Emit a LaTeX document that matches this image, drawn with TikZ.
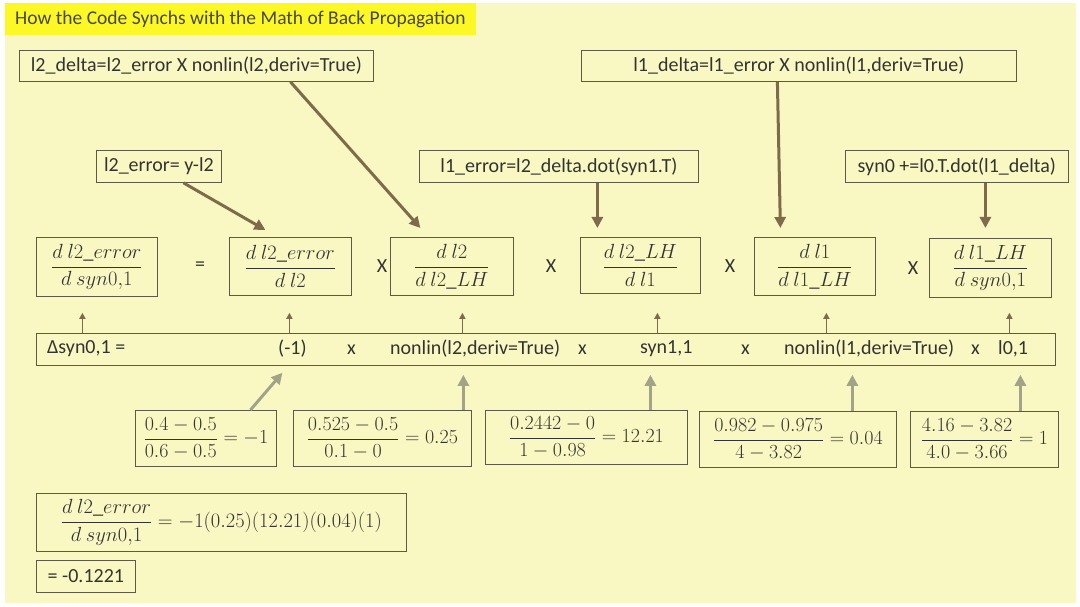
\documentclass[tikz,border=0pt]{standalone}
\usepackage{fix-cm}
\usepackage{fontspec}
\setmainfont{Carlito}
\usetikzlibrary{arrows.meta}
\definecolor{paper}{HTML}{FAF8C2}
\definecolor{titlebg}{HTML}{FCF826}
\definecolor{ink}{HTML}{333333}
\definecolor{frame}{HTML}{5E5A48}
\definecolor{brownarr}{HTML}{7D6B4B}
\definecolor{sage}{HTML}{A3A387}
\tikzset{
  codebox/.style={draw=frame, line width=0.8pt, text=ink, anchor=north west,
    font=\fontsize{20}{24}\selectfont, minimum height=31pt, inner sep=0pt},
  fracbox/.style={draw=frame, line width=0.8pt, text=ink, anchor=north west,
    font=\fontsize{20.5}{24}\selectfont, inner sep=0pt},
  numbox/.style={fracbox, font=\fontsize{20}{24}\selectfont},
  optext/.style={text=ink, font=\fontsize{20}{24}\selectfont, inner sep=0pt},
  rowtext/.style={optext, anchor=west},
  bigarr/.style={brownarr, line width=3pt, -{Triangle[length=11pt,width=11pt]}},
  smallarr/.style={brownarr, line width=1.6pt, -{Triangle[length=6pt,width=6pt]}},
  grayarr/.style={sage, line width=3pt, -{Triangle[length=11pt,width=11pt]}}
}
\begin{document}
\begin{tikzpicture}[x=1pt,y=-1pt]
\useasboundingbox (0,0) rectangle (1080,607);
\fill[white] (0,0) rectangle (1080,607);
\fill[paper] (5,3) rectangle (1076,603);
\fill[titlebg] (5,3) rectangle (476,35);
\node[text=ink!90, font=\fontsize{19.5}{23}\selectfont, anchor=west, inner sep=0pt] (title) at (15,19)
  {How the Code Synchs with the Math of Back Propagation};

% code lines
\node[codebox, minimum width=354pt] (d2) at (19,50) {l2\_delta=l2\_error X nonlin(l2,deriv=True)};
\node[codebox, minimum width=435pt] (d1) at (581,50) {l1\_delta=l1\_error X nonlin(l1,deriv=True)};
\node[codebox, minimum width=125pt, minimum height=32pt] (e2) at (96,150) {l2\_error= y-l2};
\node[codebox, minimum width=279pt, minimum height=32pt] (e1) at (419,150) {l1\_error=l2\_delta.dot(syn1.T)};
\node[codebox, minimum width=223pt, minimum height=32pt] (s0) at (845,150) {syn0 +=l0.T.dot(l1\_delta)};

% chain rule
\node[fracbox, minimum width=121pt, minimum height=59pt] (f1) at (36,237) {$\displaystyle\frac{d\ l2\_error}{d\ syn0{,}1}$};
\node[optext] (eq) at (200,266) {=};
\node[fracbox, minimum width=122pt, minimum height=58pt] (f2) at (229,237) {$\displaystyle\frac{d\ l2\_error}{d\ l2}$};
\node[optext] (m1) at (382,266) {X};
\node[fracbox, minimum width=123pt, minimum height=58pt] (f3) at (390,237) {$\displaystyle\frac{d\ l2}{d\ l2\_LH}$};
\node[optext] (m2) at (551,266) {X};
\node[fracbox, minimum width=120pt, minimum height=56pt] (f4) at (580,237) {$\displaystyle\frac{d\ l2\_LH}{d\ l1}$};
\node[optext] (m3) at (730,266) {X};
\node[fracbox, minimum width=121pt, minimum height=58pt] (f5) at (754,237) {$\displaystyle\frac{d\ l1}{d\ l1\_LH}$};
\node[optext] (m4) at (913,268) {X};
\node[fracbox, minimum width=122pt, minimum height=59pt] (f6) at (929,238) {$\displaystyle\frac{d\ l1\_LH}{d\ syn0{,}1}$};

% delta row
\node[codebox, minimum width=1019pt, minimum height=32pt] (row) at (36,333) {};
\node[rowtext] (r0) at (47,349) {Δsyn0,1 =};
\node[rowtext] (r1) at (278,349) {(-1)};
\node[rowtext] (x1) at (347,350) {x};
\node[rowtext] (r2) at (390,349) {nonlin(l2,deriv=True)};
\node[rowtext] (x2) at (578,350) {x};
\node[rowtext] (r3) at (640,349) {syn1,1};
\node[rowtext] (x3) at (741,350) {x};
\node[rowtext] (r4) at (784,349) {nonlin(l1,deriv=True)};
\node[rowtext] (x4) at (971,350) {x};
\node[rowtext] (r5) at (998,349) {l0,1};

% numbers
\node[numbox, minimum width=141pt, minimum height=56pt] (b1) at (135,410) {$\displaystyle\frac{0.4-0.5}{0.6-0.5}=-1$};
\node[numbox, minimum width=178pt, minimum height=56pt] (b2) at (293,410) {$\displaystyle\frac{0.525-0.5}{0.1-0}=0.25$};
\node[numbox, minimum width=202pt, minimum height=54pt] (b3) at (485,410) {$\displaystyle\frac{0.2442-0}{1-0.98}=12.21$};
\node[numbox, minimum width=197pt, minimum height=56pt] (b4) at (699,411) {$\displaystyle\frac{0.982-0.975}{4-3.82}=0.04$};
\node[numbox, minimum width=148pt, minimum height=56pt] (b5) at (910,411) {$\displaystyle\frac{4.16-3.82}{4.0-3.66}=1$};

% result
\node[fracbox, minimum width=370pt, minimum height=58pt] (res) at (36,493) {$\displaystyle\frac{d\ l2\_error}{d\ syn0{,}1}=-1(0.25)(12.21)(0.04)(1)$};
\node[codebox, minimum width=99pt, minimum height=32pt] (tot) at (36,560) {= -0.1221};

% code to math
\draw[bigarr] ([xshift=24.5pt]e2.south) -- ([xshift=-25pt,yshift=7pt]f2.north);
\draw[bigarr] ([xshift=94pt]d2.south) -- ([xshift=-31.5pt,yshift=9pt]f3.north);
\draw[bigarr] ([xshift=38.5pt]e1.south) -- ([xshift=-43pt,yshift=9pt]f4.north);
\draw[bigarr] ([xshift=-21.5pt]d1.south) -- ([xshift=-34.5pt,yshift=9pt]f5.north);
\draw[bigarr] ([xshift=28.5pt]s0.south) -- ([xshift=-5pt,yshift=10pt]f6.north);

% row to fractions
\draw[smallarr] ([xshift=-463.5pt]row.north) -- ([xshift=-14.5pt,yshift=-16pt]f1.south);
\draw[smallarr] ([xshift=-256.5pt]row.north) -- ([xshift=-1pt,yshift=-17pt]f2.south);
\draw[smallarr] ([xshift=-83.5pt]row.north) -- ([xshift=10.5pt,yshift=-17pt]f3.south);
\draw[smallarr] ([xshift=111.5pt]row.north) -- ([xshift=17pt,yshift=-19pt]f4.south);
\draw[smallarr] ([xshift=280.5pt]row.north) -- ([xshift=11.5pt,yshift=-17pt]f5.south);
\draw[smallarr] ([xshift=463.5pt]row.north) -- ([xshift=19pt,yshift=-15pt]f6.south);

% numbers to row
\draw[grayarr] ([xshift=44.5pt]b1.north) -- ([xshift=-263.5pt,yshift=-7pt]row.south);
\draw[grayarr] ([xshift=81pt]b2.north) -- ([xshift=-82.5pt,yshift=-9pt]row.south);
\draw[grayarr] ([xshift=64pt]b3.north) -- ([xshift=104.5pt,yshift=-9pt]row.south);
\draw[grayarr] ([xshift=54.5pt]b4.north) -- ([xshift=306.5pt,yshift=-9pt]row.south);
\draw[grayarr] ([xshift=36pt]b5.north) -- ([xshift=474.5pt,yshift=-9pt]row.south);
\end{tikzpicture}
\end{document}
